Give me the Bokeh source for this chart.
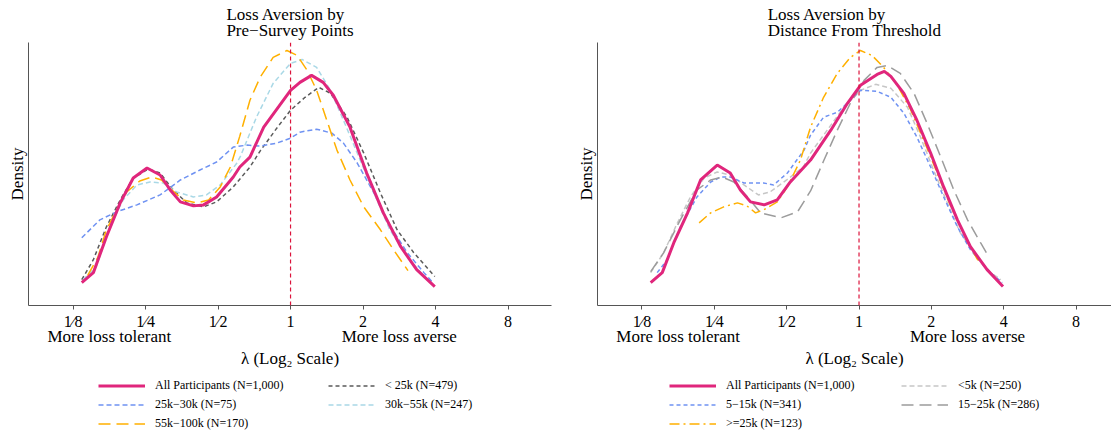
from bokeh.plotting import figure
from bokeh.layouts import row, column
from bokeh.models import Span, Legend, LegendItem, FixedTicker, LinearAxis
from bokeh.embed import file_html
from bokeh.resources import INLINE

FONT = "Liberation Serif"

# x axis: log2(lambda); tick labels
TICKS = [-3, -2, -1, 0, 1, 2, 3]
TICK_LABELS = ["1\u20448", "1\u20444", "1\u20442", "1", "2", "4", "8"]
SIDE_TICKS = [-2.5, 1.5]
SIDE_LABELS = ["More loss tolerant", "More loss averse"]

# ---------------- Left panel: by pre-survey points ----------------
all_l_x = [-2.88, -2.72, -2.54, -2.35, -2.17, -1.98, -1.80, -1.66, -1.52, -1.34, -1.20, -1.02, -0.79, -0.70,
           -0.56, -0.37, 0.00, 0.13, 0.29, 0.45, 0.59, 0.82, 1.05, 1.28, 1.52, 1.74, 1.99]
all_l_y = [0.23, 0.33, 0.69, 1.03, 1.28, 1.38, 1.31, 1.16, 1.04, 1.00, 1.01, 1.09, 1.29, 1.39,
           1.49, 1.79, 2.16, 2.24, 2.31, 2.24, 2.11, 1.79, 1.33, 0.93, 0.59, 0.36, 0.19]

lt25_x = [-2.88, -2.72, -2.54, -2.35, -2.17, -1.96, -1.80, -1.62, -1.43, -1.20, -1.02, -0.79, -0.56, -0.42,
          -0.19, 0.00, 0.20, 0.39, 0.55, 0.78, 1.01, 1.24, 1.47, 1.70, 1.99]
lt25_y = [0.26, 0.46, 0.79, 1.06, 1.28, 1.37, 1.33, 1.16, 1.03, 0.99, 1.04, 1.19, 1.39, 1.55,
          1.78, 1.96, 2.09, 2.19, 2.13, 1.89, 1.53, 1.13, 0.76, 0.53, 0.29]

k25_30_x = [-2.88, -2.63, -2.40, -2.12, -1.80, -1.52, -1.25, -1.02, -0.79, -0.60, -0.42, -0.19, 0.00, 0.13,
            0.36, 0.57, 0.73, 0.92, 1.15, 1.38, 1.61, 1.84, 1.95]
k25_30_y = [0.68, 0.86, 0.94, 1.01, 1.11, 1.26, 1.36, 1.44, 1.59, 1.61, 1.60, 1.63, 1.68, 1.74,
            1.77, 1.73, 1.63, 1.43, 1.13, 0.79, 0.53, 0.33, 0.24]

k30_55_x = [-2.86, -2.68, -2.49, -2.31, -2.12, -1.94, -1.76, -1.57, -1.34, -1.16, -0.97, -0.74, -0.69, -0.47,
            -0.24, 0.00, 0.16, 0.36, 0.55, 0.73, 0.92, 1.15, 1.37, 1.61, 1.88]
k30_55_y = [0.26, 0.39, 0.79, 1.06, 1.21, 1.24, 1.23, 1.14, 1.09, 1.11, 1.21, 1.43, 1.50, 1.89,
            2.23, 2.43, 2.47, 2.39, 2.16, 1.86, 1.53, 1.13, 0.76, 0.49, 0.26]

k55_100_x = [-2.80, -2.66, -2.54, -2.40, -2.26, -2.08, -1.92, -1.78, -1.64, -1.48, -1.29, -1.13, -0.97, -0.83,
             -0.70, -0.56, -0.42, -0.24, -0.05, 0.09, 0.23, 0.36, 0.50, 0.64, 0.82, 1.01, 1.24, 1.42, 1.62]
k55_100_y = [0.30, 0.48, 0.76, 0.96, 1.14, 1.25, 1.29, 1.26, 1.16, 1.06, 1.03, 1.06, 1.19, 1.39,
             1.70, 2.06, 2.29, 2.49, 2.56, 2.51, 2.36, 2.16, 1.86, 1.56, 1.26, 0.99, 0.76, 0.56, 0.35]

# ---------------- Right panel: by distance from threshold ----------------
all_r_x = [-2.88, -2.72, -2.56, -2.37, -2.19, -1.96, -1.78, -1.64, -1.50, -1.31, -1.13, -0.95, -0.67, -0.39,
           -0.16, 0.02, 0.25, 0.35, 0.44, 0.62, 0.80, 0.99, 1.17, 1.36, 1.54, 1.77, 1.99]
all_r_y = [0.23, 0.33, 0.63, 0.93, 1.26, 1.41, 1.33, 1.16, 1.04, 1.01, 1.06, 1.24, 1.46, 1.76,
           2.03, 2.21, 2.32, 2.35, 2.30, 2.13, 1.86, 1.53, 1.19, 0.86, 0.59, 0.36, 0.19]

lt5_x = [-2.88, -2.70, -2.51, -2.33, -2.14, -1.96, -1.78, -1.59, -1.39, -1.23, -1.00, -0.77, -0.67, -0.44,
         -0.21, 0.02, 0.23, 0.44, 0.67, 0.85, 1.03, 1.22, 1.40, 1.63, 1.82, 1.96]
lt5_y = [0.33, 0.53, 0.83, 1.09, 1.28, 1.34, 1.31, 1.21, 1.11, 1.14, 1.26, 1.39, 1.53, 1.76,
         1.99, 2.16, 2.22, 2.18, 1.99, 1.69, 1.36, 1.03, 0.73, 0.49, 0.33, 0.26]

k5_15_x = [-2.79, -2.65, -2.47, -2.24, -2.05, -1.91, -1.78, -1.59, -1.32, -1.18, -0.99, -0.76, -0.67, -0.49,
           -0.30, -0.12, 0.02, 0.25, 0.44, 0.62, 0.80, 0.99, 1.17, 1.36, 1.54, 1.77, 1.98]
k5_15_y = [0.33, 0.46, 0.79, 1.09, 1.24, 1.29, 1.29, 1.23, 1.23, 1.21, 1.33, 1.56, 1.71, 1.89,
           1.94, 2.06, 2.16, 2.15, 2.09, 1.93, 1.69, 1.39, 1.09, 0.79, 0.56, 0.36, 0.23]

k15_25_x = [-2.88, -2.70, -2.47, -2.24, -2.05, -1.89, -1.73, -1.54, -1.36, -1.08, -0.85, -0.67, -0.49, -0.30,
            -0.12, 0.07, 0.25, 0.39, 0.57, 0.76, 0.94, 1.13, 1.31, 1.50, 1.68, 1.76]
k15_25_y = [0.34, 0.53, 0.86, 1.16, 1.26, 1.29, 1.24, 1.09, 0.93, 0.88, 0.94, 1.15, 1.45, 1.76,
            2.03, 2.26, 2.39, 2.41, 2.33, 2.13, 1.83, 1.49, 1.16, 0.86, 0.63, 0.53]

ge25_x = [-2.21, -2.05, -1.87, -1.68, -1.55, -1.43, -1.32, -1.13, -0.99, -0.81, -0.67, -0.49, -0.30, -0.12,
          0.02, 0.18, 0.34, 0.53, 0.71, 0.90, 1.08, 1.26, 1.45, 1.63, 1.69]
ge25_y = [0.83, 0.93, 0.99, 1.03, 1.00, 0.93, 0.96, 1.04, 1.19, 1.46, 1.79, 2.09, 2.33, 2.49,
          2.56, 2.51, 2.39, 2.21, 1.97, 1.65, 1.33, 1.01, 0.71, 0.47, 0.42]

PINK = "#e0267c"
BLUE = "#6f92f2"

left_series = [
    ("< 25k (N=479)", lt25_x, lt25_y, "#5a5a5a", "4 3", 1.5),
    ("25k\u221230k (N=75)", k25_30_x, k25_30_y, BLUE, "5 3", 1.5),
    ("30k\u221255k (N=247)", k30_55_x, k30_55_y, "#a9d8e6", "5 3", 1.5),
    ("55k\u2212100k (N=170)", k55_100_x, k55_100_y, "#ffb000", "12 6", 1.5),
    ("All Participants (N=1,000)", all_l_x, all_l_y, PINK, "solid", 3),
]
right_series = [
    ("<5k (N=250)", lt5_x, lt5_y, "#c6c6c6", "5 3", 1.5),
    ("5\u221215k (N=341)", k5_15_x, k5_15_y, BLUE, "4 3", 1.5),
    ("15\u221225k (N=286)", k15_25_x, k15_25_y, "#9c9c9c", "12 6", 1.5),
    (">=25k (N=123)", ge25_x, ge25_y, "#ffb000", "10 4 2 4", 1.5),
    ("All Participants (N=1,000)", all_r_x, all_r_y, PINK, "solid", 3),
]


def style_text_axis(ax):
    ax.major_label_text_font = FONT
    ax.major_label_text_color = "black"
    ax.axis_label_text_font = FONT
    ax.axis_label_text_font_size = "17px"
    ax.axis_label_text_font_style = "normal"
    ax.axis_label_text_color = "black"
    ax.minor_tick_line_color = None


def make_panel(title, series, width, left_border, right_border, x_end):
    p = figure(width=width, height=370, x_range=(-3.615, x_end), y_range=(0, 2.64),
               output_backend="svg", toolbar_location=None,
               min_border_left=left_border, min_border_right=right_border,
               min_border_top=42, min_border_bottom=64)
    p.outline_line_color = None
    p.xgrid.visible = False
    p.ygrid.visible = False
    p.background_fill_color = "white"
    p.border_fill_color = "white"

    p.title.text = title
    p.title.align = "center"
    p.title.vertical_align = "top"
    p.title.text_font = FONT
    p.title.text_font_size = "17px"
    p.title.text_font_style = "normal"
    p.title.text_color = "black"
    p.title.text_line_height = 0.88
    p.title.standoff = 0

    xa = p.xaxis[0]
    style_text_axis(xa)
    xa.ticker = FixedTicker(ticks=TICKS)
    xa.major_label_overrides = dict(zip(TICKS, TICK_LABELS))
    xa.major_tick_in = 0
    xa.major_tick_out = 4
    xa.axis_line_color = "#555555"
    xa.major_tick_line_color = "#555555"
    xa.major_label_text_font_size = "16px"
    xa.major_label_standoff = 3

    xb = LinearAxis()
    style_text_axis(xb)
    xb.ticker = FixedTicker(ticks=SIDE_TICKS)
    xb.major_label_overrides = dict(zip(SIDE_TICKS, SIDE_LABELS))
    xb.axis_line_color = None
    xb.major_tick_line_color = None
    xb.major_tick_in = 0
    xb.major_tick_out = 0
    xb.major_label_text_font_size = "17px"
    xb.major_label_standoff = -6
    xb.axis_label = "\u03bb (Log\u2082 Scale)"
    xb.axis_label_standoff = 0
    p.add_layout(xb, "below")

    ya = p.yaxis[0]
    style_text_axis(ya)
    ya.ticker = FixedTicker(ticks=[])
    ya.major_tick_out = 0
    ya.major_tick_in = 0
    ya.major_label_text_font_size = "0px"
    ya.axis_line_color = "#555555"
    ya.axis_label = "Density"
    ya.axis_label_standoff = 2

    p.add_layout(Span(location=0, dimension="height", line_color="#dc143c",
                      line_dash="4 3", line_width=1.2))

    for name, xs, ys, col, dash, lw in series:
        p.line(xs, ys, line_color=col, line_dash=dash, line_width=lw)
    return p


def make_legend(series, width, order_cols, col_x):
    lf = figure(width=width, height=61, x_range=(0, 1), y_range=(0, 1),
                output_backend="svg", toolbar_location=None, min_border=0)
    lf.axis.visible = False
    lf.xgrid.visible = False
    lf.ygrid.visible = False
    lf.outline_line_color = None
    rend = {}
    for name, xs, ys, col, dash, lw in series:
        # legend sample renderers, kept outside the visible range
        rend[name] = lf.line(x=[5, 6], y=[5, 5], line_color=col, line_dash=dash, line_width=lw)
    for names, (x0, y0) in zip(order_cols, col_x):
        leg = Legend(items=[LegendItem(label=n, renderers=[rend[n]]) for n in names],
                     location=(x0, y0), glyph_width=47, glyph_height=15, label_height=15,
                     label_standoff=10, spacing=4, padding=2, margin=0,
                     border_line_color=None, background_fill_alpha=0,
                     label_text_font=FONT, label_text_font_size="12px", label_text_color="black")
        lf.add_layout(leg)
    return lf


p1 = make_panel("Loss Aversion by\nPre\u2212Survey Points", left_series, 556, 28, 5, 3.60)
p2 = make_panel("Loss Aversion by\nDistance From Threshold", right_series, 555, 41, 0, 3.49)

l1 = make_legend(left_series, 556,
                 [["All Participants (N=1,000)", "25k\u221230k (N=75)", "55k\u2212100k (N=170)"],
                  ["< 25k (N=479)", "30k\u221255k (N=247)"]], [(70, 0), (300, 19)])
l2 = make_legend(right_series, 555,
                 [["All Participants (N=1,000)", "5\u221215k (N=341)", ">=25k (N=123)"],
                  ["<5k (N=250)", "15\u221225k (N=286)"]], [(72, 0), (304, 19)])

layout = row(column(p1, l1), column(p2, l2))
open("out.html", "w").write(file_html(layout, INLINE))
